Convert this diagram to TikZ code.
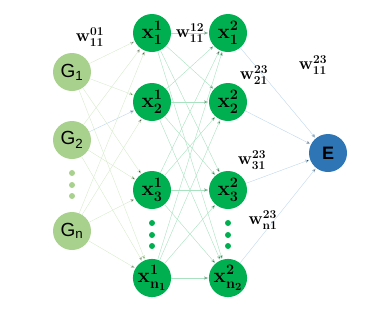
\documentclass[tikz,border=0pt]{standalone}
\usepackage{fontspec}
\setsansfont{Liberation Sans}
\usepackage{tikz}
\usetikzlibrary{arrows}
\usepackage{amssymb}

\definecolor{gfill}{RGB}{169,209,142}
\definecolor{xfill}{RGB}{0,176,80}
\definecolor{efill}{RGB}{46,117,182}
\definecolor{gline}{RGB}{214,236,203}
\definecolor{xline}{RGB}{168,226,192}
\definecolor{eline}{RGB}{189,215,238}

\newcommand{\bw}[2]{$\mathbf{w}^{\mathbf{#1}}_{\mathbf{#2}}$}
\newcommand{\bx}[2]{$\mathbf{x}^{\mathbf{#1}}_{\mathbf{#2}}$}

\begin{document}
\begin{tikzpicture}[x=1pt,y=-1pt,->,>=stealth',shorten >=1pt,
  gnode/.style={circle,fill=gfill,minimum size=38pt,inner sep=0pt,font=\sffamily\fontsize{19}{19}\selectfont},
  xnode/.style={circle,fill=xfill,minimum size=38pt,inner sep=0pt,font=\boldmath\fontsize{21}{21}\selectfont},
  enode/.style={circle,fill=efill,minimum size=38pt,inner sep=0pt,font=\sffamily\bfseries\fontsize{18}{18}\selectfont},
  wlabel/.style={font=\boldmath\fontsize{18}{18}\selectfont},
  gdot/.style={circle,fill=gfill,minimum size=6pt,inner sep=0pt},
  xdot/.style={circle,fill=xfill,minimum size=6pt,inner sep=0pt}]

  \useasboundingbox (0,0) rectangle (369,319);

  % input layer
  \node[gnode] (g1) at (72, 72) {G$_\mathsf{1}$};
  \node[gnode] (g2) at (72,140) {G$_\mathsf{2}$};
  \node[gnode] (gn) at (72,231) {G$_\mathsf{n}$};
  \node[gdot] (gd1) at (72,173) {};
  \node[gdot] (gd2) at (72,185) {};
  \node[gdot] (gd3) at (72,196) {};

  % first hidden layer
  \node[xnode] (a1) at (152, 33) {\bx{1}{1}};
  \node[xnode] (a2) at (152,102) {\bx{1}{2}};
  \node[xnode] (a3) at (152,190) {\bx{1}{3}};
  \node[xnode] (an) at (152,278) {\bx{1}{n_1}};
  \node[xdot] (ad1) at (152,223) {};
  \node[xdot] (ad2) at (152,235) {};
  \node[xdot] (ad3) at (152,246) {};

  % second hidden layer
  \node[xnode] (b1) at (228, 33) {\bx{2}{1}};
  \node[xnode] (b2) at (228,102) {\bx{2}{2}};
  \node[xnode] (b3) at (228,190) {\bx{2}{3}};
  \node[xnode] (bn) at (228,278) {\bx{2}{n_2}};
  \node[xdot] (bd1) at (228,223) {};
  \node[xdot] (bd2) at (228,235) {};
  \node[xdot] (bd3) at (228,246) {};

  % output
  \node[enode] (e) at (328,153) {E};

  \path[draw=gline,thin]
    (g1) edge (a1)
    (g1) edge (a2)
    (g1) edge (a3)
    (g1) edge (an)
    (g2) edge (a1)
    (g2) edge (a3)
    (g2) edge (an)
    (gn) edge (a1)
    (gn) edge (a2)
    (gn) edge (a3)
    (gn) edge (an);
  \path[draw=eline,thin]
    (g2) edge (a2);

  \path[draw=xline,thin]
    (a1) edge (b1)
    (a1) edge (b2)
    (a1) edge (b3)
    (a1) edge (bn)
    (a2) edge (b1)
    (a2) edge (b2)
    (a2) edge (b3)
    (a2) edge (bn)
    (a3) edge (b1)
    (a3) edge (b2)
    (a3) edge (b3)
    (a3) edge (bn)
    (an) edge (b1)
    (an) edge (b2)
    (an) edge (b3)
    (an) edge (bn);

  \path[draw=eline,thin]
    (b1) edge (e)
    (b2) edge (e)
    (b3) edge (e)
    (bn) edge (e);

  % weights
  \node[wlabel] (w01) at (90, 37) {\bw{01}{11}};
  \node[wlabel] (w12) at (190, 33) {\bw{12}{11}};
  \node[wlabel] (w21) at (254, 75) {\bw{23}{21}};
  \node[wlabel] (w11) at (313, 65) {\bw{23}{11}};
  \node[wlabel] (w31) at (252,160) {\bw{23}{31}};
  \node[wlabel] (wn1) at (263,220) {\bw{23}{n1}};

\end{tikzpicture}
\end{document}
